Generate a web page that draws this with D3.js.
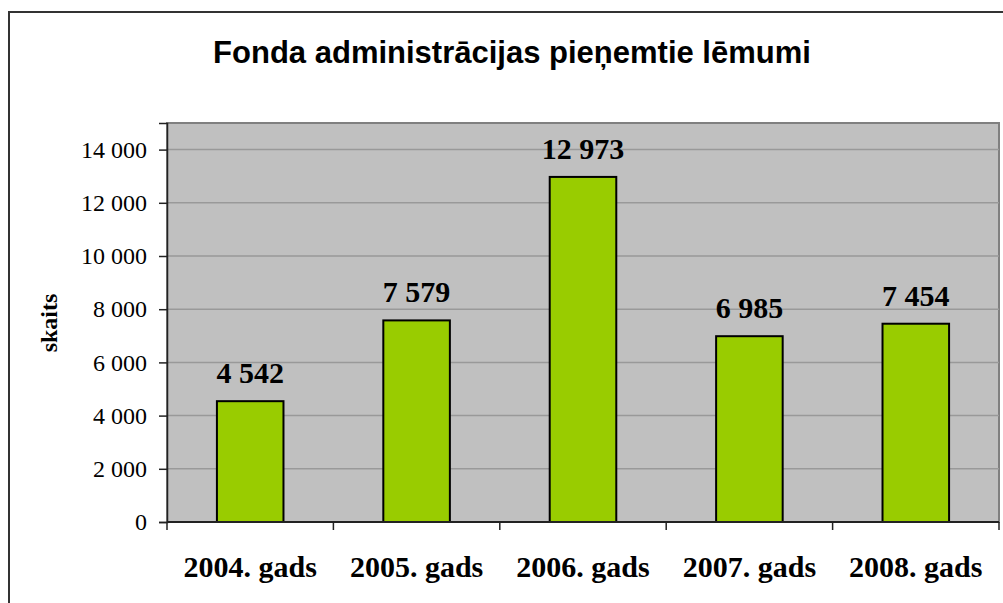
<!DOCTYPE html>
<html>
<head>
<meta charset="utf-8">
<script src="https://cdn.jsdelivr.net/npm/d3@7"></script>
<style>
  body { margin: 0; background: #fff; }
  svg { display: block; }
</style>
</head>
<body>
<div id="chart"></div>
<script>
// chart data
const years = ["2004. gads", "2005. gads", "2006. gads", "2007. gads", "2008. gads"];
const decisions = [4542, 7579, 12973, 6985, 7454];
const yTicks = [0, 2000, 4000, 6000, 8000, 10000, 12000, 14000];

const width = 1003;
const height = 603;
const marginTop = 123;
const marginRight = 4;
const marginBottom = 81;
const marginLeft = 167;

const serif = "'Liberation Serif', 'Times New Roman', serif";
const sans = "'Liberation Sans', Arial, sans-serif";

const data = years.map((y, i) => ({ year: y, value: decisions[i] }));

const fmt = v => d3.format(",")(v).replace(/,/g, " ");

const x = d3.scaleBand(years, [marginLeft, width - marginRight])
    .paddingInner(0.6)
    .paddingOuter(0.3);

const y = d3.scaleLinear([0, 15000], [height - marginBottom, marginTop]);

const svg = d3.select("#chart").append("svg")
    .attr("width", width)
    .attr("height", height)
    .attr("viewBox", [0, 0, width, height]);

// outer frame (runs off the right and bottom edge)
svg.append("rect")
    .attr("x", 9)
    .attr("y", 12)
    .attr("width", width + 20)
    .attr("height", height + 20)
    .attr("fill", "none")
    .attr("stroke", "#333")
    .attr("stroke-width", 2);

// title
svg.append("text")
    .attr("x", 512)
    .attr("y", 63)
    .attr("text-anchor", "middle")
    .attr("font-family", sans)
    .attr("font-weight", "bold")
    .attr("font-size", 31)
    .text("Fonda administrācijas pieņemtie lēmumi");

// plot area
svg.append("rect")
    .attr("x", marginLeft)
    .attr("y", marginTop)
    .attr("width", width - marginLeft - marginRight)
    .attr("height", height - marginBottom - marginTop)
    .attr("fill", "#c0c0c0")
    .attr("stroke", "#808080")
    .attr("stroke-width", 2);

// grid lines
svg.append("g")
    .selectAll("line")
    .data(yTicks.filter(d => d > 0))
    .join("line")
      .attr("x1", marginLeft)
      .attr("x2", width - marginRight)
      .attr("y1", d => y(d))
      .attr("y2", d => y(d))
      .attr("stroke", "#999")
      .attr("stroke-width", 1.5);

// y axis
svg.append("g")
    .attr("transform", `translate(${marginLeft},0)`)
    .call(d3.axisLeft(y).tickValues(yTicks).tickFormat(fmt).tickSize(8).tickPadding(12))
    .call(g => g.selectAll(".domain, .tick line").attr("stroke", "#222").attr("stroke-width", 1.5))
    .call(g => g.selectAll(".tick text")
        .attr("font-family", serif)
        .attr("font-size", 24)
        .attr("fill", "#000"));

// bars
svg.append("g")
    .selectAll("rect")
    .data(data)
    .join("rect")
      .attr("x", d => x(d.year))
      .attr("y", d => y(d.value))
      .attr("width", x.bandwidth())
      .attr("height", d => y(0) - y(d.value))
      .attr("fill", "#99cc00")
      .attr("stroke", "#000")
      .attr("stroke-width", 2);

// value labels
svg.append("g")
    .selectAll("text")
    .data(data)
    .join("text")
      .attr("x", d => x(d.year) + x.bandwidth() / 2)
      .attr("y", d => y(d.value) - 18)
      .attr("text-anchor", "middle")
      .attr("font-family", serif)
      .attr("font-weight", "bold")
      .attr("font-size", 30)
      .text(d => fmt(d.value));

// x axis: ticks on category boundaries
const xAxis = svg.append("g");
xAxis.append("line")
    .attr("x1", marginLeft)
    .attr("x2", width - marginRight)
    .attr("y1", y(0))
    .attr("y2", y(0))
    .attr("stroke", "#222")
    .attr("stroke-width", 2);
xAxis.selectAll(".sep")
    .data(years.map((d, i) => i).concat([years.length]))
    .join("line")
      .attr("class", "sep")
      .attr("x1", i => marginLeft + i * x.step())
      .attr("x2", i => marginLeft + i * x.step())
      .attr("y1", y(0))
      .attr("y2", y(0) + 8)
      .attr("stroke", "#222")
      .attr("stroke-width", 1.5);
xAxis.selectAll(".lbl")
    .data(years)
    .join("text")
      .attr("class", "lbl")
      .attr("x", d => x(d) + x.bandwidth() / 2)
      .attr("y", 577)
      .attr("text-anchor", "middle")
      .attr("font-family", serif)
      .attr("font-weight", "bold")
      .attr("font-size", 30)
      .text(d => d);

// y axis title
svg.append("text")
    .attr("transform", "translate(57,323) rotate(-90)")
    .attr("text-anchor", "middle")
    .attr("font-family", serif)
    .attr("font-weight", "bold")
    .attr("font-size", 24)
    .text("skaits");
</script>
</body>
</html>
